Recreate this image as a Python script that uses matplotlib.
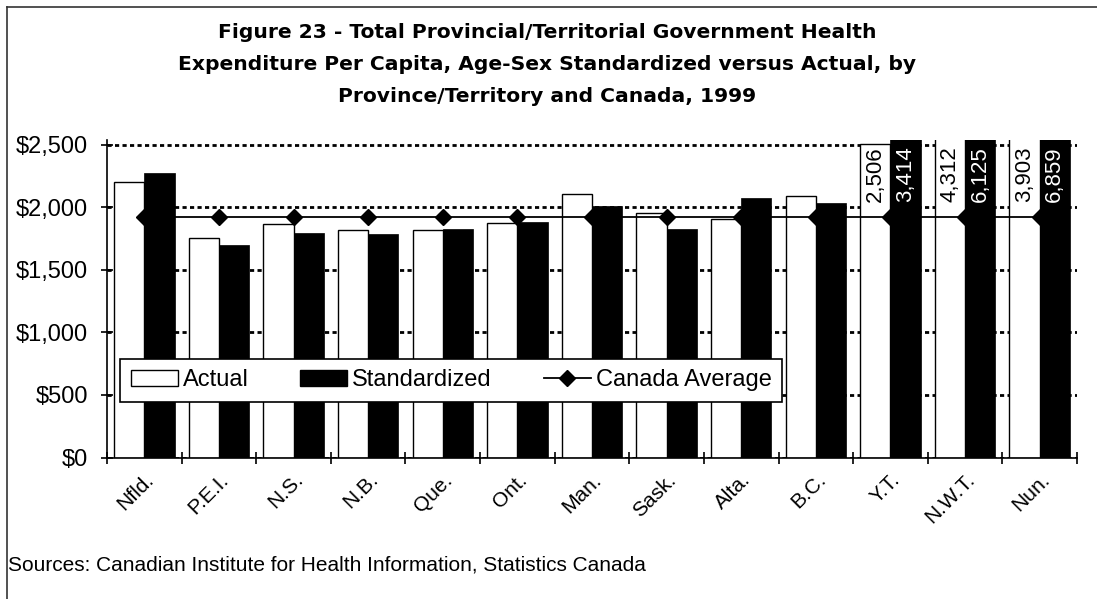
import matplotlib
matplotlib.use("Agg")
import matplotlib.pyplot as plt
import matplotlib.ticker as mticker
from matplotlib.lines import Line2D
from matplotlib.patches import Patch
import numpy as np

provinces = ["Nfld.", "P.E.I.", "N.S.", "N.B.", "Que.", "Ont.", "Man.",
             "Sask.", "Alta.", "B.C.", "Y.T.", "N.W.T.", "Nun."]
actual = [2200, 1750, 1862, 1820, 1820, 1875, 2104, 1952, 1904, 2091, 2506, 4312, 3903]
standardized = [2271, 1697, 1796, 1782, 1825, 1882, 2008, 1824, 2075, 2035, 3414, 6125, 6859]
canada_avg = 1918
y_max = 2540

plt.rcParams['font.family'] = ['Liberation Sans', 'DejaVu Sans']

fig = plt.figure(figsize=(10.97, 5.99), dpi=100)
ax = fig.add_axes([107 / 1097, 1 - 457.5 / 599, 970 / 1097, 318 / 599])

x = np.arange(len(provinces))
w = 0.405

ax.bar(x - w / 2, actual, w, color="white", edgecolor="black", linewidth=1.0, zorder=2)
ax.plot(x, [canada_avg] * len(x), color="black", lw=1.3, marker="D", ms=8, zorder=2.5)
ax.bar(x + w / 2, standardized, w, color="black", edgecolor="black", linewidth=0.5, zorder=3)

# values that run off the top of the axis
for i in range(len(x)):
    if actual[i] > 2500:
        ax.text(x[i] - w / 2, 2265, f"{actual[i]:,}", rotation=90, ha="center", va="center",
                fontsize=16, color="black", zorder=4, clip_on=False)
    if standardized[i] > 2500:
        ax.text(x[i] + w / 2, 2265, f"{standardized[i]:,}", rotation=90, ha="center", va="center",
                fontsize=16, color="white", zorder=4, clip_on=False,
                bbox=dict(facecolor="black", edgecolor="none", pad=1))

ax.set_xlim(-0.5, len(x) - 0.5)
ax.set_ylim(0, y_max)
ax.set_yticks(np.arange(0, 2501, 500))
ax.yaxis.set_major_formatter(mticker.StrMethodFormatter("${x:,.0f}"))
ax.grid(axis="y", color="black", lw=2, linestyle=(0, (1.5, 1.2)), zorder=0)
ax.set_axisbelow(True)

ax.set_xticks(x)
ax.set_xticklabels(provinces, rotation=45, ha="right", rotation_mode="anchor", fontsize=15)
ax.tick_params(axis="x", length=0, pad=9)
ax.set_xticks(np.arange(-0.5, len(x)), minor=True)
ax.tick_params(axis="x", which="minor", direction="inout", length=8, width=1.2)
ax.tick_params(axis="y", direction="inout", length=9, width=1.2, labelsize=17, pad=9)

for s in ["top", "right"]:
    ax.spines[s].set_visible(False)
ax.spines["left"].set_linewidth(1.2)
ax.spines["bottom"].set_linewidth(1.2)

handles = [Patch(facecolor="white", edgecolor="black", label="Actual"),
           Patch(facecolor="black", edgecolor="black", label="Standardized"),
           Line2D([], [], color="black", lw=1.3, marker="D", ms=8, label="Canada Average")]
leg = ax.legend(handles=handles, ncol=3, loc="lower left", mode="expand",
                bbox_to_anchor=(13 / 970, 0.175, 662 / 970, 0.135), fontsize=17,
                frameon=True, fancybox=False, edgecolor="black", framealpha=1,
                handlelength=2.0, handletextpad=0.2, borderpad=0.45, borderaxespad=0)
leg.get_frame().set_linewidth(1.2)
leg.set_zorder(10)

title_lines = ["Figure 23 - Total Provincial/Territorial Government Health",
               "Expenditure Per Capita, Age-Sex Standardized versus Actual, by",
               "Province/Territory and Canada, 1999"]
for k, line in enumerate(title_lines):
    fig.text(547 / 1097, 1 - (32 + 32.5 * k) / 599, line, ha="center", va="center",
             fontsize=14.6, fontweight="bold", family="DejaVu Sans")

fig.text(8 / 1097, 1 - 565 / 599, "Sources: Canadian Institute for Health Information, Statistics Canada",
         ha="left", va="center", fontsize=15)

# border around the chart area
fig.add_artist(Line2D([6.5 / 1097, 6.5 / 1097], [0, 1 - 7 / 599], color="#333333", lw=1.2,
                      transform=fig.transFigure))
fig.add_artist(Line2D([6.5 / 1097, 1], [1 - 7 / 599, 1 - 7 / 599], color="#333333", lw=1.2,
                      transform=fig.transFigure))

fig.savefig("out.png", dpi=100)
